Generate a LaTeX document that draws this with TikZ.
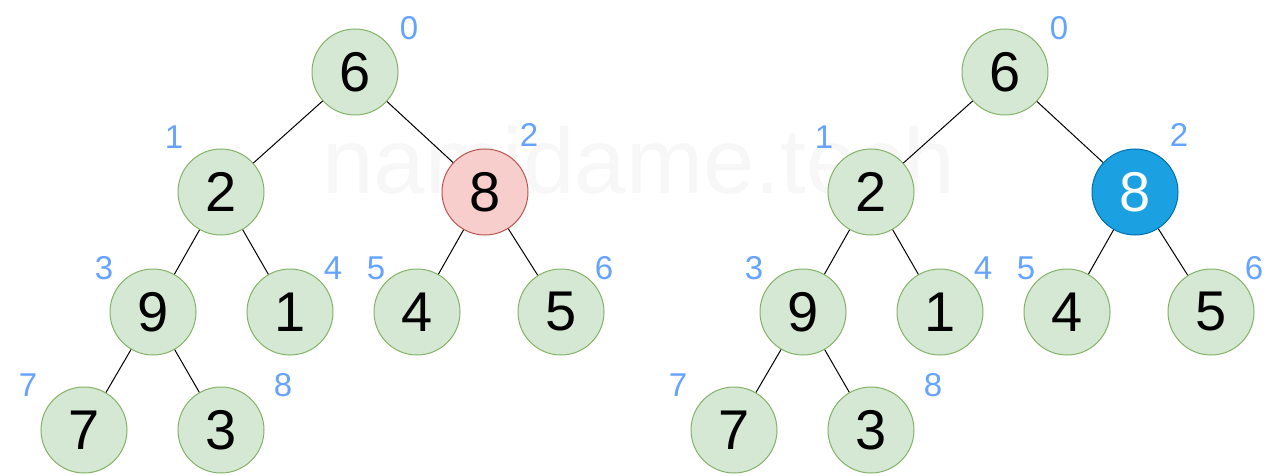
\documentclass[tikz,border=0pt]{standalone}
\usepackage{fontspec}
\setmainfont{Liberation Sans}
\definecolor{gfill}{HTML}{D5E8D4}
\definecolor{gline}{HTML}{82B366}
\definecolor{rfill}{HTML}{F8CECC}
\definecolor{rline}{HTML}{B85450}
\definecolor{bfill}{HTML}{1BA1E2}
\definecolor{bline}{HTML}{006EAF}
\definecolor{idx}{HTML}{66A3FF}
\definecolor{wm}{HTML}{F7F7F7}
\tikzset{
  hnode/.style={circle, draw=gline, fill=gfill, line width=0.5pt, minimum size=43pt, inner sep=0pt, font=\fontsize{28}{28}\selectfont},
  rnode/.style={hnode, draw=rline, fill=rfill},
  bnode/.style={hnode, draw=bline, fill=bfill, text=white},
  idxlbl/.style={text=idx, inner sep=0pt, font=\fontsize{16.5}{16.5}\selectfont},
  edge/.style={draw=black, line width=0.5pt}
}
\begin{document}
\begin{tikzpicture}[x=0.5pt,y=-0.5pt]
\useasboundingbox (0,0) rectangle (1280,476);
\node[text=wm, inner sep=0pt, anchor=base west, font=\fontsize{46.3}{46.3}\selectfont] (wmk) at (322,193) {namidame.tech};
% left tree
\node[hnode] (a0) at (355,72) {6};
\node[hnode] (a1) at (221,192) {2};
\node[rnode] (a2) at (485,192) {8};
\node[hnode] (a3) at (153,312) {9};
\node[hnode] (a4) at (290,312) {1};
\node[hnode] (a5) at (417,312) {4};
\node[hnode] (a6) at (561,312) {5};
\node[hnode] (a7) at (84,430) {7};
\node[hnode] (a8) at (221,430) {3};
\draw[edge] (a0) -- (a1);
\draw[edge] (a0) -- (a2);
\draw[edge] (a1) -- (a3);
\draw[edge] (a1) -- (a4);
\draw[edge] (a2) -- (a5);
\draw[edge] (a2) -- (a6);
\draw[edge] (a3) -- (a7);
\draw[edge] (a3) -- (a8);
\node[idxlbl] (la0) at (409,28) {0};
\node[idxlbl] (la1) at (174,137) {1};
\node[idxlbl] (la2) at (529,135) {2};
\node[idxlbl] (la3) at (104,268) {3};
\node[idxlbl] (la4) at (333,268) {4};
\node[idxlbl] (la5) at (376,268) {5};
\node[idxlbl] (la6) at (604,268) {6};
\node[idxlbl] (la7) at (28,385) {7};
\node[idxlbl] (la8) at (283,385) {8};
% right tree
\node[hnode] (b0) at (1005,72) {6};
\node[hnode] (b1) at (871,192) {2};
\node[bnode] (b2) at (1135,192) {8};
\node[hnode] (b3) at (803,312) {9};
\node[hnode] (b4) at (940,312) {1};
\node[hnode] (b5) at (1067,312) {4};
\node[hnode] (b6) at (1211,312) {5};
\node[hnode] (b7) at (734,430) {7};
\node[hnode] (b8) at (871,430) {3};
\draw[edge] (b0) -- (b1);
\draw[edge] (b0) -- (b2);
\draw[edge] (b1) -- (b3);
\draw[edge] (b1) -- (b4);
\draw[edge] (b2) -- (b5);
\draw[edge] (b2) -- (b6);
\draw[edge] (b3) -- (b7);
\draw[edge] (b3) -- (b8);
\node[idxlbl] (lb0) at (1059,28) {0};
\node[idxlbl] (lb1) at (824,137) {1};
\node[idxlbl] (lb2) at (1179,135) {2};
\node[idxlbl] (lb3) at (754,268) {3};
\node[idxlbl] (lb4) at (983,268) {4};
\node[idxlbl] (lb5) at (1026,268) {5};
\node[idxlbl] (lb6) at (1254,268) {6};
\node[idxlbl] (lb7) at (678,385) {7};
\node[idxlbl] (lb8) at (933,385) {8};
\end{tikzpicture}
\end{document}
